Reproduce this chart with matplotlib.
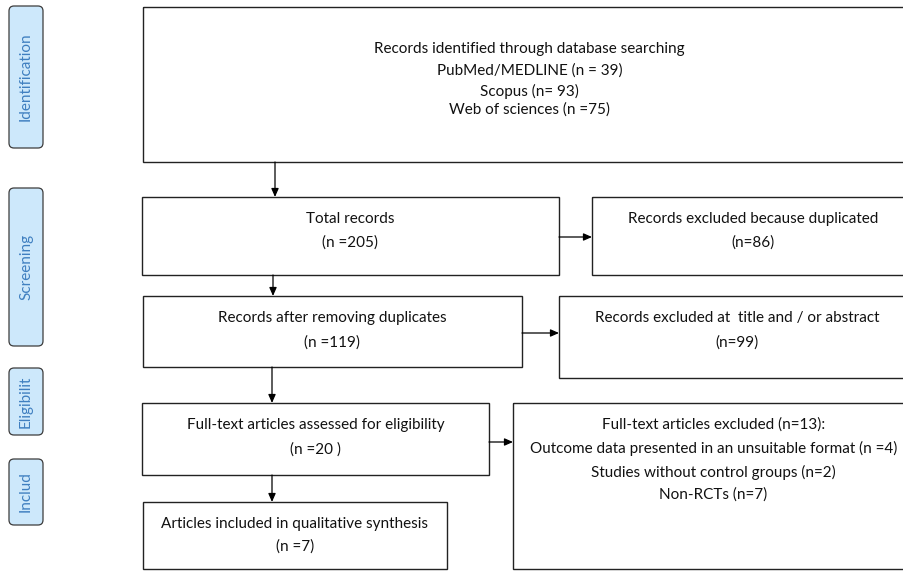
import matplotlib.pyplot as plt
from matplotlib.patches import Rectangle, FancyBboxPatch

# Text of each box in the flow
identification_lines = ['Records identified through database searching',
                        'PubMed/MEDLINE (n = 39)',
                        'Scopus (n= 93)',
                        'Web of sciences (n =75)']
total_lines = ['Total records', '(n =205)']
dup_lines = ['Records excluded because duplicated', '(n=86)']
after_dup_lines = ['Records after removing duplicates', '(n =119)']
title_excl_lines = ['Records excluded at  title and / or abstract', '(n=99)']
fulltext_lines = ['Full-text articles assessed for eligibility', '(n =20 )']
fulltext_excl_lines = ['Full-text articles excluded (n=13):',
                       'Outcome data presented in an unsuitable format (n =4)',
                       'Studies without control groups (n=2)',
                       'Non-RCTs (n=7)']
included_lines = ['Articles included in qualitative synthesis', '(n =7)']
stage_labels = ['Identification', 'Screening', 'Eligibilit', 'Includ']

plt.rcParams['font.family'] = ['Lato', 'DejaVu Sans']

fig = plt.figure(figsize=(9.04, 5.71), dpi=100)
ax = fig.add_axes([0, 0, 1, 1])
ax.set_xlim(0, 904)
ax.set_ylim(571, 0)
ax.axis('off')

FS = 11


def box(x0, y0, x1, y1, lines, ys):
    ax.add_patch(Rectangle((x0, y0), x1 - x0, y1 - y0, fill=False,
                           edgecolor='#222222', lw=1.0, clip_on=True))
    cx = (x0 + x1) / 2
    for t, y in zip(lines, ys):
        ax.text(cx, y, t, ha='center', va='center', fontsize=FS, color='#111111')


def arrow(x0, y0, x1, y1):
    ax.annotate('', xy=(x1, y1), xytext=(x0, y0),
                arrowprops=dict(arrowstyle='-|>,head_length=0.5,head_width=0.22',
                                color='black', lw=0.9, shrinkA=0, shrinkB=0))


# main column
box(143, 7, 916, 162, identification_lines, [49, 71, 91, 110])
box(142, 197, 559, 275, total_lines, [219, 243])
box(143, 296, 522, 367, after_dup_lines, [318, 343])
box(142, 403, 489, 475, fulltext_lines, [425, 450])
box(143, 502, 447, 569, included_lines, [524, 547])

# exclusion boxes
box(592, 197, 914, 275, dup_lines, [219, 243])
box(559, 296, 916, 378, title_excl_lines, [318, 343])
box(513, 403, 914, 569, fulltext_excl_lines, [425, 448, 472, 495])

# arrows down
arrow(275, 162, 275, 197)
arrow(273, 275, 273, 296)
arrow(272, 367, 272, 403)
arrow(272, 475, 272, 502)

# arrows right
arrow(559, 237, 592, 237)
arrow(522, 333, 559, 333)
arrow(489, 442, 513, 442)

# stage labels on the left
stage_spans = [(6, 148), (188, 346), (368, 435), (459, 525)]
for label, (y0, y1) in zip(stage_labels, stage_spans):
    ax.add_patch(FancyBboxPatch((9, y0), 34, y1 - y0,
                                boxstyle='round,pad=0,rounding_size=5',
                                facecolor='#cde8fb', edgecolor='#3c3c3c', lw=0.9))
    ax.text(26, (y0 + y1) / 2, label, rotation=90, ha='center', va='center',
            fontsize=FS, color='#3f7fc0')

plt.savefig('out.png', dpi=100)
